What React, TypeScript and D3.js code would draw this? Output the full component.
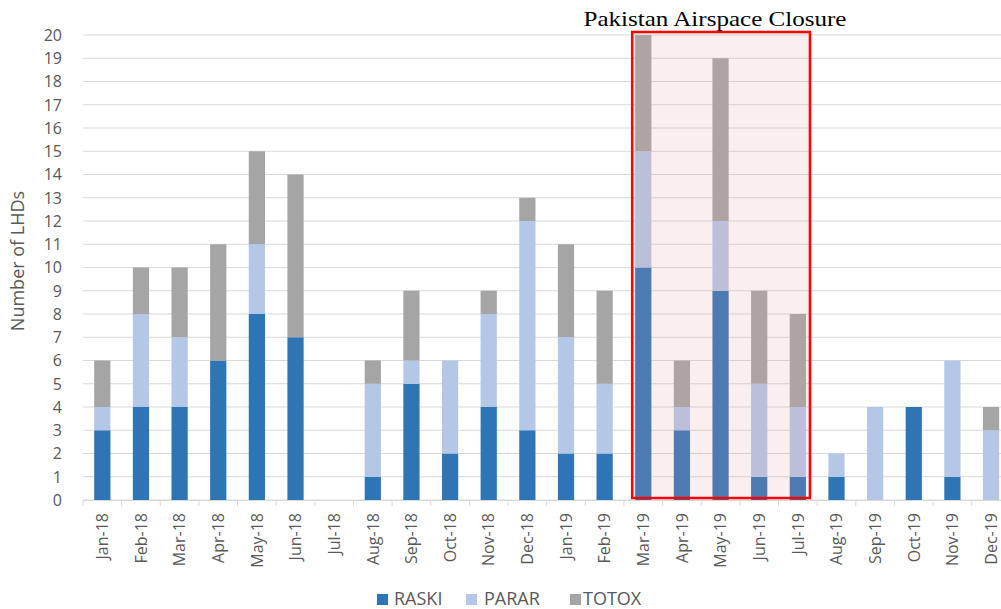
import React from 'react';
import * as d3 from 'd3';

const months = [
  'Jan-18', 'Feb-18', 'Mar-18', 'Apr-18', 'May-18', 'Jun-18', 'Jul-18', 'Aug-18', 'Sep-18', 'Oct-18', 'Nov-18', 'Dec-18',
  'Jan-19', 'Feb-19', 'Mar-19', 'Apr-19', 'May-19', 'Jun-19', 'Jul-19', 'Aug-19', 'Sep-19', 'Oct-19', 'Nov-19', 'Dec-19',
];
const raski = [3, 4, 4, 6, 8, 7, 0, 1, 5, 2, 4, 3, 2, 2, 10, 3, 9, 1, 1, 1, 0, 4, 1, 0];
const parar = [1, 4, 3, 0, 3, 0, 0, 4, 1, 4, 4, 9, 5, 3, 5, 1, 3, 4, 3, 1, 4, 0, 5, 3];
const totox = [2, 2, 3, 5, 4, 7, 0, 1, 3, 0, 1, 1, 4, 4, 5, 2, 7, 4, 4, 0, 0, 0, 0, 1];
const seriesNames = ['RASKI', 'PARAR', 'TOTOX'];
const colors = ['#2e75b6', '#b4c7e7', '#a5a5a5'];
const yTicks = d3.range(0, 21);
const closureStart = 'Mar-19';
const closureEnd = 'Jul-19';

const W = 1001;
const H = 609;
const left = 83;
const right = 83 + 24 * 38.64;
const FONT = "'Open Sans', sans-serif";

export default function App() {
  const x = d3.scaleBand<string>().domain(months).range([left, right]).paddingInner(0.58).paddingOuter(0.29);
  const y = d3.scaleLinear().domain([0, 20]).range([500, 35]);

  const rows = months.map((m, i) => ({ month: m, RASKI: raski[i], PARAR: parar[i], TOTOX: totox[i] }));
  const stacked = d3.stack<any>().keys(seriesNames)(rows);

  const step = x.step();
  const boxX0 = (x(closureStart) as number) - 3;
  const boxX1 = (x(closureEnd) as number) + x.bandwidth() + 4;

  // legend sits at the very bottom of the frame
  const legendItems = [
    { name: 'RASKI', sx: 377, tx: 394 },
    { name: 'PARAR', sx: 466, tx: 484 },
    { name: 'TOTOX', sx: 570, tx: 583 },
  ];

  return (
    <svg width={W} height={H} style={{ position: 'absolute', left: 0, top: 0, background: '#fff' }}
      fontFamily={FONT}>
      {/* grid */}
      {yTicks.map(t => (
        <line key={t} x1={left} x2={W} y1={y(t)} y2={y(t)} stroke="#d9d9d9" strokeWidth={1} />
      ))}
      {yTicks.map(t => (
        <text key={'yl' + t} x={62} y={y(t)} dy="0.36em" textAnchor="end" fontSize={16} fill="#595959">{t}</text>
      ))}
      <text transform={`translate(24,261) rotate(-90)`} textAnchor="middle" fontSize={18} fill="#595959">Number of LHDs</text>

      {/* bars */}
      {stacked.map((s, si) => (
        <g key={s.key} fill={colors[si]}>
          {s.map((d, i) => d[1] > d[0] ? (
            <rect key={i} x={x(months[i])} width={x.bandwidth()} y={y(d[1])} height={y(d[0]) - y(d[1])} />
          ) : null)}
        </g>
      ))}

      {/* x axis */}
      <line x1={left} x2={W} y1={500.5} y2={500.5} stroke="#d9d9d9" />
      {d3.range(0, 25).map(i => (
        <line key={'tk' + i} x1={left + i * step} x2={left + i * step} y1={500} y2={506} stroke="#d9d9d9" />
      ))}
      {months.map(m => (
        <text key={'xl' + m} transform={`translate(${(x(m) as number) + x.bandwidth() / 2},513) rotate(-90)`}
          textAnchor="end" dy="0.36em" fontSize={16} fill="#595959">{m}</text>
      ))}

      {/* closure box */}
      <rect x={boxX0} y={32} width={boxX1 - boxX0} height={466} fill="#e89a9a" fillOpacity={0.17}
        stroke="#ff0000" strokeWidth={2.5} />
      <text x={715} y={26} textAnchor="middle" fontSize={21} fill="#000"
        textLength={263} lengthAdjust="spacingAndGlyphs"
        fontFamily="'Liberation Serif', 'Times New Roman', serif">Pakistan Airspace Closure</text>

      {/* legend */}
      {legendItems.map((l, i) => (
        <g key={l.name}>
          <rect x={l.sx} y={594} width={11} height={11} fill={colors[i]} />
          <text x={l.tx} y={605} fontSize={18} fill="#595959">{l.name}</text>
        </g>
      ))}
    </svg>
  );
}
